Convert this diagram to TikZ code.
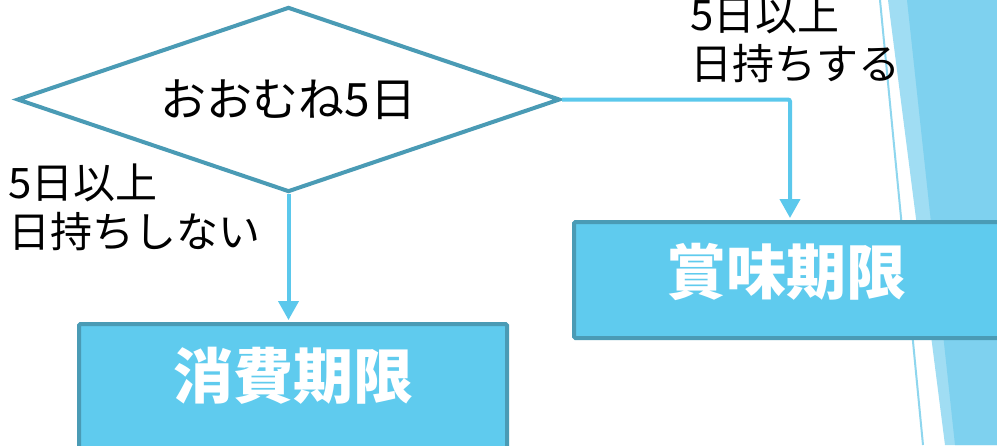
\documentclass[tikz,border=0pt]{standalone}
\usepackage{fontspec}
\setmainfont{Noto Sans CJK JP}
\usetikzlibrary{arrows.meta,shapes.geometric}
\definecolor{edgec}{RGB}{74,155,181}
\definecolor{boxfill}{RGB}{95,203,238}
\definecolor{arrowc}{RGB}{91,200,236}
\definecolor{decomain}{RGB}{126,209,239}
\definecolor{decolight}{RGB}{160,221,243}
\definecolor{decoline}{RGB}{142,214,238}
\tikzset{
  decision/.style={diamond, aspect=2.94, draw=edgec, line width=4pt, minimum width=543pt, minimum height=185pt, inner sep=0pt, font=\fontsize{46}{52}\selectfont},
  resultbox/.style={rectangle, draw=edgec, fill=boxfill, line width=4pt, rounded corners=1.5pt},
  boxtext/.style={text=white, font=\fontsize{60}{66}\selectfont\bfseries, inner sep=0pt},
  lbl/.style={align=left, font=\fontsize{42}{49}\selectfont, inner sep=0pt, text=black},
  flow/.style={draw=arrowc, line width=4pt, -{Triangle[length=19pt,width=20pt]}}
}
\begin{document}
\begin{tikzpicture}[x=1pt,y=-1pt]
\useasboundingbox (0,0) rectangle (997,445);
\fill[white] (0,0) rectangle (997,445);
% slide decoration
\fill[decolight] (888,0) -- (997,0) -- (997,445) -- (945,445) -- cycle;
\fill[decomain] (907,0) -- (997,0) -- (997,445) -- (955,445) -- cycle;
\draw[decoline, line width=2pt] (880,0) -- (923,445);
% nodes
\node[decision] (dia) at (288.5,99.5) {おおむね5日};
\node[resultbox, minimum width=428pt, minimum height=140pt, anchor=north west] (b1) at (77,322) {};
\node[boxtext] (t1) at ([yshift=-54pt]b1.north) {消費期限};
\node[resultbox, minimum width=440pt, minimum height=116pt, anchor=north west] (b2) at (572,220) {};
\node[boxtext] (t2) at ([xshift=214pt,yshift=-52pt]b2.north west) {賞味期限};
% labels
\node[lbl, anchor=north west] (l1) at (8,164) {5日以上\\日持ちしない};
\node[lbl, anchor=north west] (l2) at (690,-4) {5日以上\\日持ちする};
% connectors
\draw[flow, shorten >=2pt] (dia.south) -- (b1.north -| dia.south);
\draw[flow, shorten >=2pt, rounded corners=2pt] (dia.east) -| ([xshift=218pt]b2.north west);
\end{tikzpicture}
\end{document}
